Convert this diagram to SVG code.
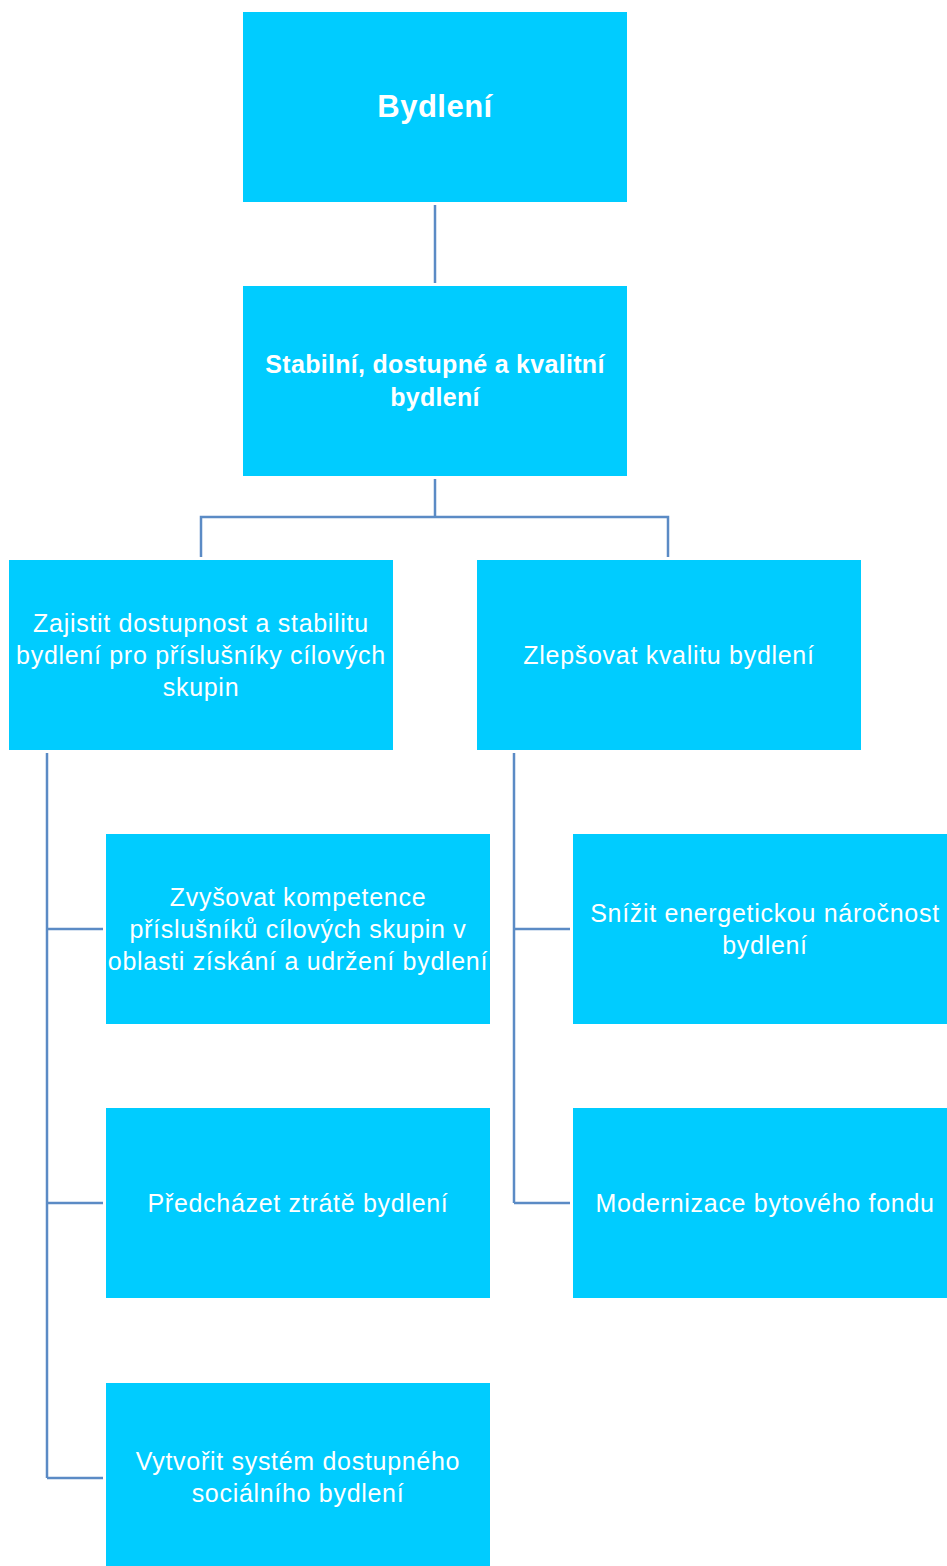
<svg xmlns="http://www.w3.org/2000/svg" width="947" height="1566" viewBox="0 0 947 1566">
<style>
.box{fill:#00CCFF;}
.t{font-family:"Liberation Sans",Arial,sans-serif;font-size:25px;letter-spacing:0.7px;fill:#FFFFFF;text-anchor:middle;}
.b{font-weight:bold;letter-spacing:0.3px;}
.c{fill:none;stroke:#5B8BC5;stroke-width:2.5;}
</style>
<rect width="947" height="1566" fill="#FFFFFF"/>
<g id="connectors">
<path class="c" d="M435 205V283"/>
<path class="c" d="M435 479V517M201 557V517H668V557"/>
<path class="c" d="M47 753V1478M47 929H103M47 1203H103M47 1478H103"/>
<path class="c" d="M514 753V1203M514 929H570M514 1203H570"/>
</g>
<g id="n-bydleni">
<rect class="box" x="243" y="12" width="384" height="190"/>
<text class="t b" x="435" y="117" style="font-size:31px;letter-spacing:0.5px">Bydlení</text>
</g>
<g id="n-stabilni">
<rect class="box" x="243" y="286" width="384" height="190"/>
<text class="t b" x="435" y="373">Stabilní, dostupné a kvalitní</text>
<text class="t b" x="435" y="406">bydlení</text>
</g>
<g id="n-zajistit">
<rect class="box" x="9" y="560" width="384" height="190"/>
<text class="t" x="201" y="632">Zajistit dostupnost a stabilitu</text>
<text class="t" x="201" y="664">bydlení pro příslušníky cílových</text>
<text class="t" x="201" y="696">skupin</text>
</g>
<g id="n-zlepsovat">
<rect class="box" x="477" y="560" width="384" height="190"/>
<text class="t" x="669" y="664">Zlepšovat kvalitu bydlení</text>
</g>
<g id="n-zvysovat">
<rect class="box" x="106" y="834" width="384" height="190"/>
<text class="t" x="298" y="906">Zvyšovat kompetence</text>
<text class="t" x="298" y="938">příslušníků cílových skupin v</text>
<text class="t" x="298" y="970">oblasti získání a udržení bydlení</text>
</g>
<g id="n-predchazet">
<rect class="box" x="106" y="1108" width="384" height="190"/>
<text class="t" x="298" y="1212">Předcházet ztrátě bydlení</text>
</g>
<g id="n-vytvorit">
<rect class="box" x="106" y="1383" width="384" height="190"/>
<text class="t" x="298" y="1470">Vytvořit systém dostupného</text>
<text class="t" x="298" y="1502">sociálního bydlení</text>
</g>
<g id="n-snizit">
<rect class="box" x="573" y="834" width="384" height="190"/>
<text class="t" x="765" y="922">Snížit energetickou náročnost</text>
<text class="t" x="765" y="954">bydlení</text>
</g>
<g id="n-modernizace">
<rect class="box" x="573" y="1108" width="384" height="190"/>
<text class="t" x="765" y="1212">Modernizace bytového fondu</text>
</g>
</svg>
